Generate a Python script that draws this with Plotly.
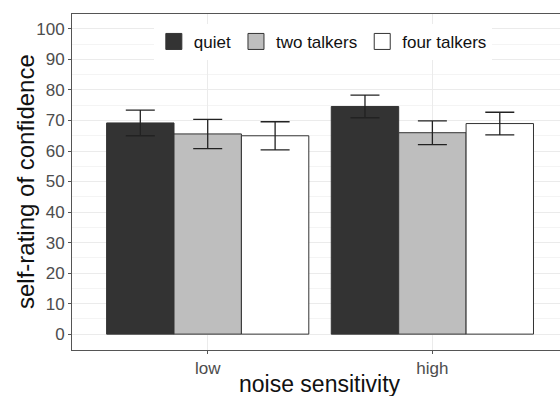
import plotly.graph_objects as go

# data
categories = ["low", "high"]
series_names = ["quiet", "two talkers", "four talkers"]
means = {
    "quiet": [69.2, 74.6],
    "two talkers": [65.6, 66.0],
    "four talkers": [65.0, 69.0],
}
errors = {
    "quiet": [4.2, 3.7],
    "two talkers": [4.8, 3.9],
    "four talkers": [4.6, 3.7],
}
fill_colors = {"quiet": "#333333", "two talkers": "#bebebe", "four talkers": "#ffffff"}
y_ticks = list(range(0, 101, 10))

FONT = "Liberation Sans, Arial, sans-serif"

fig = go.Figure()
for name in series_names:
    fig.add_trace(go.Bar(
        x=categories, y=means[name], name=name,
        marker=dict(color=fill_colors[name], line=dict(color="#333333", width=1)),
        error_y=dict(type="data", array=errors[name], color="#222222", thickness=1.3, width=14.5),
        showlegend=False,
    ))
# legend entries (square keys)
for name in series_names:
    fig.add_trace(go.Scatter(
        x=[None], y=[None], mode="markers", name=name,
        marker=dict(symbol="square", size=18, color=fill_colors[name],
                    line=dict(color="#333333", width=1)),
        showlegend=True,
    ))

fig.update_layout(
    width=560, height=396,
    margin=dict(l=72, r=0, t=14, b=46),
    paper_bgcolor="white", plot_bgcolor="white",
    barmode="group", bargap=0.1, bargroupgap=0,
    font=dict(family=FONT, size=17, color="#4d4d4d"),
    legend=dict(orientation="h", x=0.514, xanchor="center", y=0.917, yanchor="middle",
                bgcolor="white", font=dict(size=17, color="#111111"),
                itemsizing="trace"),
    xaxis=dict(
        type="category", range=[-0.604, 1.568], automargin=False,
        showgrid=True, gridcolor="#ebebeb", gridwidth=1,
        showline=True, linecolor="#555555", linewidth=1, mirror=True,
        ticks="outside", ticklen=3, tickcolor="#555555",
        tickfont=dict(size=17, color="#4d4d4d"),
        zeroline=False,
    ),
    yaxis=dict(
        range=[-5.2, 104.9], tickvals=y_ticks, automargin=False,
        showgrid=True, gridcolor="#ebebeb", gridwidth=1,
        minor=dict(dtick=5, tick0=0, showgrid=True, gridcolor="#f4f4f4", gridwidth=1),
        showline=True, linecolor="#555555", linewidth=1, mirror=False,
        ticks="outside", ticklen=3, tickcolor="#555555",
        tickfont=dict(size=17, color="#4d4d4d"),
        zeroline=False,
    ),
    annotations=[
        dict(
            text="self-rating of confidence", textangle=-90,
            xref="paper", yref="paper", x=(25 - 72) / 488, y=0.5,
            xanchor="center", yanchor="middle", showarrow=False,
            font=dict(size=24, color="#111111", family=FONT),
        ),
        dict(
            text="noise sensitivity",
            xref="paper", yref="paper", x=(319.5 - 72) / 488, y=(350 - 384) / 336,
            xanchor="center", yanchor="middle", showarrow=False,
            font=dict(size=23, color="#111111", family=FONT),
        ),
    ],
)

fig.write_html("out.html")
